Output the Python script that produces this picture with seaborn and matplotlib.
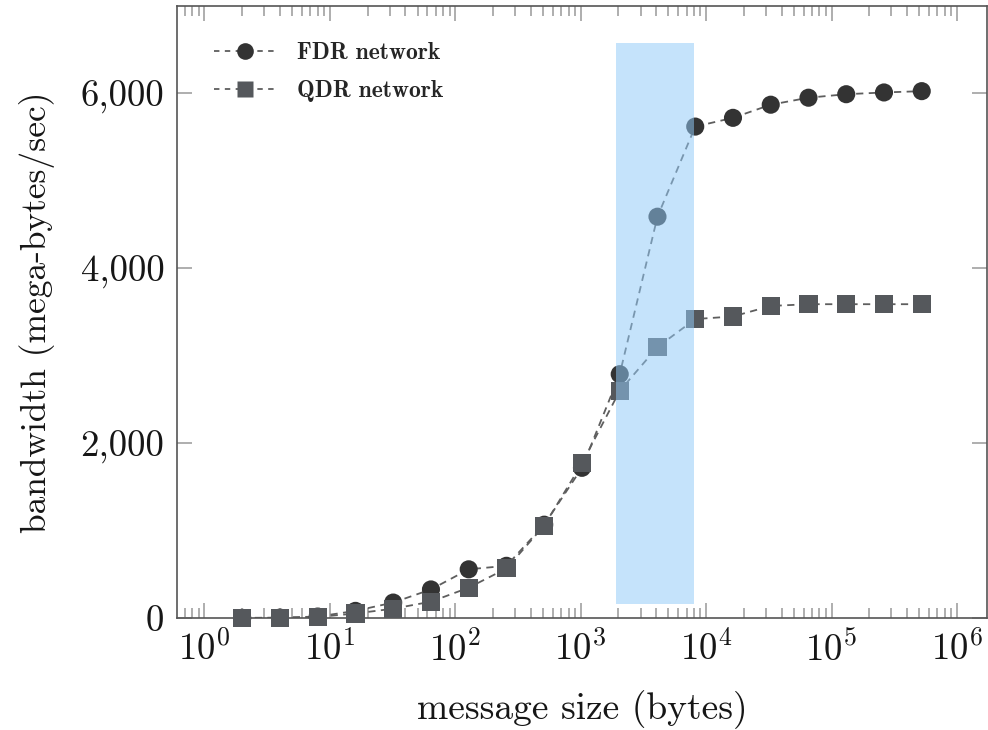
import numpy as np
import pandas as pd
import seaborn as sns
import matplotlib.pyplot as plt
import matplotlib.ticker as ticker
from matplotlib.lines import Line2D

# message sizes in bytes (2 .. 512K)
sizes = [2, 4, 8, 16, 32, 64, 128, 256, 512, 1024, 2048, 4096, 8192,
         16384, 32768, 65536, 131072, 262144, 524288]
# bandwidth in MB/s
fdr_bw = [5, 8, 20, 85, 180, 330, 560, 600, 1070, 1720, 2790, 4590, 5620,
          5720, 5870, 5950, 5990, 6010, 6025]
qdr_bw = [0, 5, 15, 55, 110, 190, 350, 570, 1060, 1770, 2600, 3100, 3420,
          3450, 3570, 3590, 3590, 3590, 3590]
series_names = ['FDR network', 'QDR network']
x_ticks = [1, 10, 100, 1000, 10000, 100000, 1000000]
y_ticks = [0, 2000, 4000, 6000]
highlight_x = [1900, 8000]
highlight_y = [160, 6570]

sns.set_style('ticks')
plt.rcParams['font.family'] = ['cmr10', 'DejaVu Serif']
plt.rcParams['mathtext.fontset'] = 'cm'
plt.rcParams['axes.unicode_minus'] = False
plt.rcParams['axes.formatter.use_mathtext'] = True

df = pd.DataFrame({
    'size': sizes * 2,
    'bw': fdr_bw + qdr_bw,
    'network': [n for n in series_names for _ in sizes],
})

line_colors = {'FDR network': '#5e5e5e', 'QDR network': '#5e5e5e'}
marker_colors = {'FDR network': '#333333', 'QDR network': '#55585c'}
marker_shapes = {'FDR network': 'o', 'QDR network': 's'}

fig = plt.figure(figsize=(9.88, 7.3), dpi=100)
ax = fig.add_axes([0.179, 0.153, 0.820, 0.839])
ax.set_xscale('log')

sns.lineplot(data=df, x='size', y='bw', hue='network', palette=line_colors,
             linewidth=1.3, linestyle=(0, (4, 3)), legend=False, ax=ax, zorder=2)
sns.scatterplot(data=df, x='size', y='bw', hue='network', style='network',
                palette=marker_colors, markers=marker_shapes, s=170,
                edgecolor='none', legend=False, clip_on=False, zorder=3, ax=ax)

# highlighted region (drawn over the data, translucent)
ax.fill_between(highlight_x, highlight_y[0], highlight_y[1],
                color='#91caf8', alpha=0.52, lw=0, zorder=4)

ax.set_xlim(10 ** -0.22, 10 ** 6.24)
ax.set_ylim(0, 7000)
ax.set_yticks(y_ticks)
ax.yaxis.set_major_formatter(ticker.StrMethodFormatter('{x:,.0f}'))
ax.xaxis.set_major_locator(ticker.FixedLocator(x_ticks))
ax.xaxis.set_major_formatter(ticker.LogFormatterSciNotation())
ax.xaxis.set_minor_locator(ticker.LogLocator(base=10, subs=np.arange(2, 10), numticks=20))
ax.xaxis.set_minor_formatter(ticker.NullFormatter())

ax.tick_params(which='both', direction='in', top=True, right=True,
               color='#a8a8a8', width=1.3, labelsize=26.5, labelcolor='#161616')
ax.tick_params(which='major', length=11, pad=9)
ax.tick_params(which='minor', length=7)
for sp in ax.spines.values():
    sp.set_color('#555555')
    sp.set_linewidth(1.2)

ax.set_xlabel('message size (bytes)', fontsize=27, color='#161616', labelpad=16)
ax.set_ylabel('bandwidth (mega-bytes/sec)', fontsize=25.5, color='#161616', labelpad=18)

handles = [Line2D([], [], color='#5e5e5e', linestyle=(0, (3, 3)), linewidth=1.3,
                  marker=marker_shapes[n], markersize=12,
                  markerfacecolor=marker_colors[n], markeredgecolor='none')
           for n in series_names]
ax.legend(handles, series_names, loc='upper left', frameon=False,
          prop={'family': 'cmb10', 'size': 17}, handlelength=2.6,
          bbox_to_anchor=(0.02, 0.975), borderaxespad=0.5,
          labelspacing=0.66, handletextpad=0.9)

fig.savefig('out.png', dpi=100)
